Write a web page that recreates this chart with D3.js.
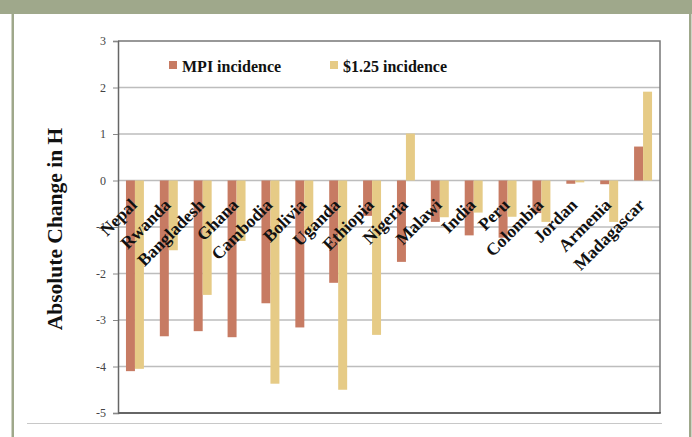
<!DOCTYPE html>
<html>
<head>
<meta charset="utf-8">
<script src="https://cdn.jsdelivr.net/npm/d3@7"></script>
<style>
  html, body { margin: 0; padding: 0; background: #fff; }
  svg { display: block; }
</style>
</head>
<body>
<svg id="chart" width="692" height="437"></svg>
<script>
const countries = ['Nepal', 'Rwanda', 'Bangladesh', 'Ghana', 'Cambodia', 'Bolivia', 'Uganda', 'Ethiopia',
  'Nigeria', 'Malawi', 'India', 'Peru', 'Colombia', 'Jordan', 'Armenia', 'Madagascar'];
const mpiIncidence = [-4.1, -3.35, -3.24, -3.37, -2.64, -3.16, -2.2, -0.76,
  -1.75, -0.89, -1.18, -1.23, -0.7, -0.07, -0.08, 0.73];
const dollarIncidence = [-4.05, -1.5, -2.46, -1.3, -4.37, -1.1, -4.5, -3.32,
  1.01, -0.79, -0.69, -0.78, -0.89, -0.04, -0.89, 1.91];
const seriesNames = ['MPI incidence', '$1.25 incidence'];
const seriesColors = ['#c77b63', '#e6cb86'];
const yTicks = [3, 2, 1, 0, -1, -2, -3, -4, -5];

const svg = d3.select('#chart');
const serif = '"Liberation Serif", "Times New Roman", serif';
const green = '#9fa88b';

// slide frame
svg.append('rect').attr('x', 0).attr('y', 0).attr('width', 692).attr('height', 14).attr('fill', green);
svg.append('rect').attr('x', 11.5).attr('y', 14).attr('width', 2.5).attr('height', 423).attr('fill', green);
svg.append('rect').attr('x', 689).attr('y', 14).attr('width', 2.5).attr('height', 423).attr('fill', green);
svg.append('line').attr('x1', 27).attr('x2', 662).attr('y1', 423.5).attr('y2', 423.5)
  .attr('stroke', '#c8c8c8').attr('stroke-width', 1.2);

const plot = { left: 118, right: 660, top: 41, bottom: 413 };

const y = d3.scaleLinear().domain([-5, 3]).range([plot.bottom, plot.top]);
const x = d3.scaleBand().domain(countries).range([plot.left, plot.right])
  .paddingInner(0.47).paddingOuter(0.235);
const x1 = d3.scaleBand().domain(seriesNames).range([0, x.bandwidth()]);

// gridlines
svg.append('g').selectAll('line')
  .data(yTicks.filter(t => t > -5 && t < 3))
  .join('line')
  .attr('x1', plot.left).attr('x2', plot.right)
  .attr('y1', d => y(d)).attr('y2', d => y(d))
  .attr('stroke', '#bdbdbd').attr('stroke-width', 1.5);

// bars
const rows = countries.map((c, i) => ({ country: c, values: [mpiIncidence[i], dollarIncidence[i]] }));
const groups = svg.append('g').selectAll('g')
  .data(rows)
  .join('g')
  .attr('transform', d => `translate(${x(d.country)},0)`);

groups.selectAll('rect')
  .data(d => d.values.map((v, k) => ({ key: seriesNames[k], value: v, k })))
  .join('rect')
  .attr('x', d => x1(d.key))
  .attr('width', x1.bandwidth())
  .attr('y', d => y(Math.max(0, d.value)))
  .attr('height', d => Math.abs(y(d.value) - y(0)))
  .attr('fill', d => seriesColors[d.k]);

// frame top/right
svg.append('path')
  .attr('d', `M${plot.left},${plot.top}H${plot.right}V${plot.bottom}`)
  .attr('fill', 'none').attr('stroke', '#777').attr('stroke-width', 1.5);
svg.append('line')
  .attr('x1', plot.left).attr('x2', plot.right + 0.75)
  .attr('y1', plot.bottom).attr('y2', plot.bottom)
  .attr('stroke', '#333').attr('stroke-width', 1.5);

// y axis
const yAxis = svg.append('g')
  .attr('transform', `translate(${plot.left},0)`)
  .call(d3.axisLeft(y).tickValues(yTicks).tickSize(5).tickPadding(7).tickFormat(d => String(d)));
yAxis.select('.domain').attr('stroke', '#666').attr('stroke-width', 1.5);
yAxis.selectAll('.tick line').attr('stroke', '#888');
yAxis.selectAll('.tick text')
  .attr('fill', '#444')
  .style('font-family', serif)
  .style('font-size', '12px');

// y axis title
svg.append('text')
  .attr('transform', 'translate(62,229) rotate(-90)')
  .attr('text-anchor', 'middle')
  .style('font-family', serif)
  .style('font-weight', 'bold')
  .style('font-size', '21.5px')
  .attr('fill', '#111')
  .text('Absolute Change in H');

// category labels, rotated over the bars
svg.append('g').selectAll('text')
  .data(countries)
  .join('text')
  .attr('transform', d => `translate(${x(d) + x.bandwidth() / 2 + 3},206) rotate(-45)`)
  .attr('text-anchor', 'end')
  .style('font-family', serif)
  .style('font-weight', 'bold')
  .style('font-size', '17.5px')
  .attr('fill', '#111')
  .text(d => d);

// legend
const legendX = [169, 330];
const legend = svg.append('g').selectAll('g')
  .data(seriesNames)
  .join('g')
  .attr('transform', (d, i) => `translate(${legendX[i]},61)`);
legend.append('rect').attr('width', 8).attr('height', 8).attr('fill', (d, i) => seriesColors[i]);
legend.append('text')
  .attr('x', 13).attr('y', 11)
  .style('font-family', serif)
  .style('font-weight', 'bold')
  .style('font-size', '16px')
  .attr('fill', '#111')
  .text(d => d);
</script>
</body>
</html>
